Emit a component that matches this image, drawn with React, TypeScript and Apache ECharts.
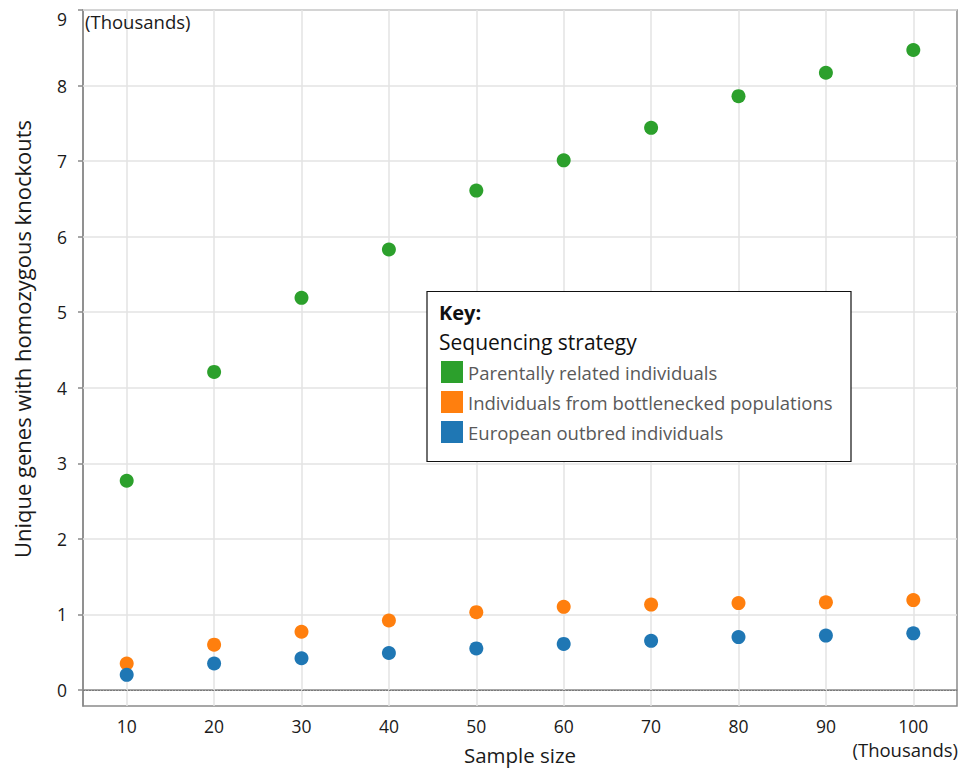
import React, { useEffect, useRef } from "react";
import * as echarts from "echarts";

const categories = ["10", "20", "30", "40", "50", "60", "70", "80", "90", "100"];
const parentallyRelated = [2.77, 4.21, 5.19, 5.83, 6.61, 7.01, 7.44, 7.86, 8.17, 8.47];
const bottlenecked = [0.35, 0.6, 0.77, 0.92, 1.03, 1.1, 1.13, 1.15, 1.16, 1.19];
const europeanOutbred = [0.2, 0.35, 0.42, 0.49, 0.55, 0.61, 0.65, 0.7, 0.72, 0.75];
const yTicks = [0, 1, 2, 3, 4, 5, 6, 7, 8, 9];
const seriesNames = [
  "Parentally related individuals",
  "Individuals from bottlenecked populations",
  "European outbred individuals",
];
const colors = ["#2ca02c", "#ff7f0e", "#1f77b4"];

const FONT = "'Open Sans', sans-serif";

export default function App() {
  const ref = useRef<HTMLDivElement>(null);
  useEffect(() => {
    if (!ref.current) return;
    const chart = echarts.init(ref.current, null, { renderer: "svg" });
    const gridMarks = [
      ...categories.map((c) => ({ xAxis: c, lineStyle: { color: "#e3e3e3", width: 1.5, type: "solid" } })),
      ...yTicks.slice(1).map((v) => ({ yAxis: v, lineStyle: { color: "#e3e3e3", width: 1.5, type: "solid" } })),
      { yAxis: 0, lineStyle: { color: "#7a7a7a", width: 1, type: [2, 1] } },
    ];
    const textStyle = (size: number, color: string, extra: any = {}) => ({
      fontSize: size,
      fontFamily: FONT,
      fill: color,
      ...extra,
    });
    chart.setOption({
      animation: false,
      textStyle: { fontFamily: FONT },
      grid: {
        left: 83,
        right: 4,
        top: 10,
        bottom: 63,
        show: true,
        containLabel: false,
        outerBoundsMode: "none",
        borderColor: "#8a8a8a",
        borderWidth: 1.5,
        backgroundColor: "transparent",
      },
      xAxis: {
        type: "category",
        data: categories,
        boundaryGap: true,
        name: "Sample size",
        nameLocation: "middle",
        nameGap: 38,
        nameTextStyle: { fontSize: 20.5, lineHeight: 22, color: "#1a1a1a", fontFamily: FONT },
        axisLine: { show: true, lineStyle: { color: "#8a8a8a", width: 1.5 } },
        axisTick: { show: false },
        axisLabel: { fontSize: 17.5, lineHeight: 20, color: "#1a1a1a", margin: 10, fontFamily: FONT },
        splitLine: { show: false },
      },
      yAxis: {
        type: "value",
        min: -0.212,
        max: 9,
        name: "Unique genes with homozygous knockouts",
        nameLocation: "middle",
        nameGap: 50,
        nameTextStyle: { fontSize: 22, color: "#1a1a1a", fontFamily: FONT, padding: [0, 0, 0, 38] },
        axisLine: { show: true, lineStyle: { color: "#8a8a8a", width: 1.5 } },
        axisTick: { show: true, length: 5, customValues: yTicks, lineStyle: { color: "#8a8a8a", width: 1.5 } },
        axisLabel: {
          fontSize: 17.5,
          color: "#1a1a1a",
          margin: 16,
          customValues: yTicks,
          fontFamily: FONT,
          verticalAlignMaxLabel: "top",
        },
        splitLine: { show: false },
      },
      legend: {
        orient: "vertical",
        left: 441,
        top: 361,
        itemWidth: 22,
        itemHeight: 22,
        itemGap: 8,
        icon: "rect",
        data: seriesNames,
        textStyle: { fontSize: 18.5, color: "#595959", fontFamily: FONT },
        selectedMode: false,
        padding: 0,
        z: 20,
      },
      graphic: [
        {
          type: "rect",
          shape: { x: 427, y: 291.5, width: 424, height: 170 },
          style: { fill: "#ffffff", stroke: "#111111", lineWidth: 1.2 },
          z: 10,
        },
        {
          type: "text",
          x: 439,
          y: 312,
          z: 11,
          style: textStyle(20, "#111111", { text: "Key:", fontWeight: 700, verticalAlign: "middle" }),
        },
        {
          type: "text",
          x: 439,
          y: 342,
          z: 11,
          style: textStyle(21, "#111111", { text: "Sequencing strategy", verticalAlign: "middle" }),
        },
        {
          type: "text",
          x: 85,
          y: 21,
          z: 11,
          style: textStyle(18.5, "#1a1a1a", { text: "(Thousands)", verticalAlign: "middle" }),
        },
        {
          type: "text",
          x: 958,
          y: 749,
          z: 11,
          style: textStyle(18.5, "#1a1a1a", { text: "(Thousands)", lineHeight: 20, align: "right", verticalAlign: "middle" }),
        },
      ],
      series: [
        {
          name: seriesNames[0],
          type: "scatter",
          data: parentallyRelated,
          symbolSize: 14,
          itemStyle: { color: colors[0], opacity: 1 },
          z: 3,
          markLine: {
            silent: true,
            symbol: "none",
            z: 1,
            label: { show: false },
            data: gridMarks,
          },
        },
        {
          name: seriesNames[1],
          type: "scatter",
          data: bottlenecked,
          symbolSize: 14,
          itemStyle: { color: colors[1], opacity: 1 },
          z: 3,
        },
        {
          name: seriesNames[2],
          type: "scatter",
          data: europeanOutbred,
          symbolSize: 14,
          itemStyle: { color: colors[2], opacity: 1 },
          z: 4,
        },
      ],
    });
    return () => chart.dispose();
  }, []);
  return <div ref={ref} style={{ width: 961, height: 769, position: "absolute", left: 0, top: 0 }} />;
}
